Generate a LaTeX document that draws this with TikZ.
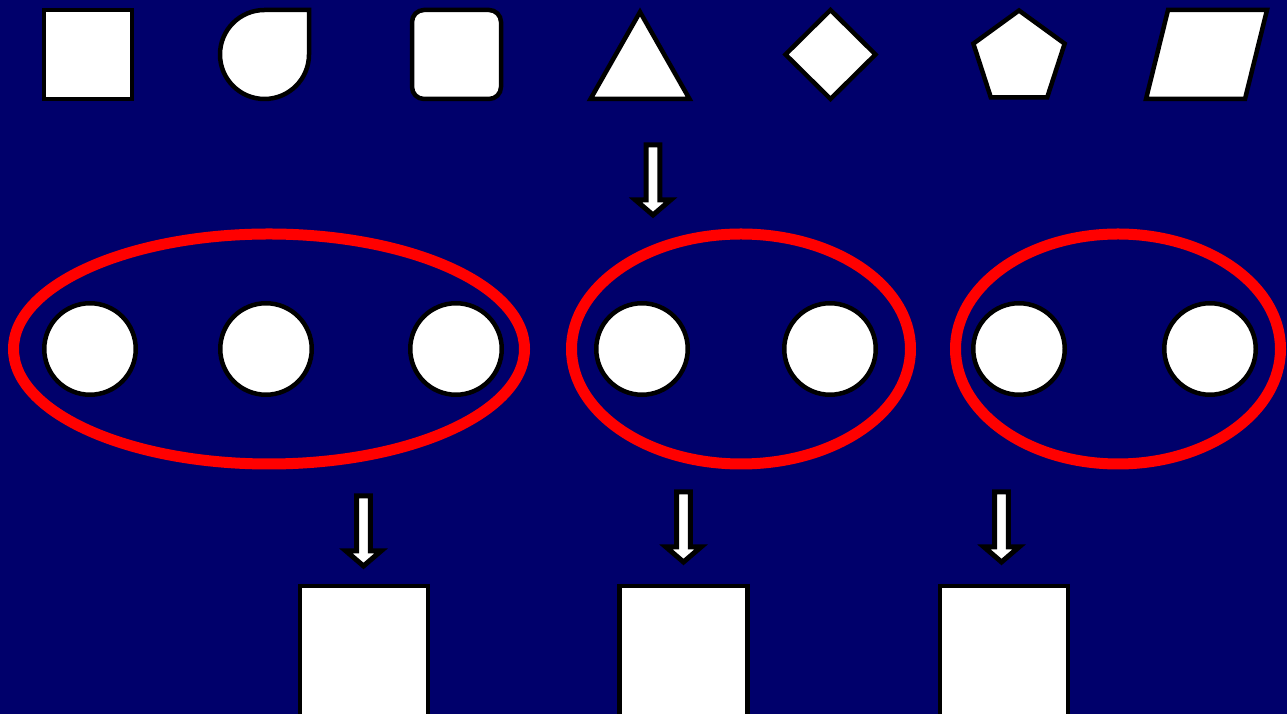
\documentclass[tikz,border=0pt]{standalone}
\usetikzlibrary{shapes.geometric}
\definecolor{bgnavy}{RGB}{0,0,107}
\definecolor{ringred}{RGB}{255,0,0}
\tikzset{
  shp/.style={draw=black,fill=white,line width=4.5pt,line join=miter},
  ball/.style={shp,circle,minimum size=91.5pt,inner sep=0pt},
  ring/.style={draw=ringred,line width=11pt,ellipse,inner sep=0pt},
  outbox/.style={shp,rectangle,minimum width=128pt,minimum height=134pt,inner sep=0pt},
  blockarr/.pic={
    \draw[shp,line width=5pt] (-6.8,0) -- (-6.8,-55) -- (-17.5,-55) -- (0,-70) -- (17.5,-55) -- (6.8,-55) -- (6.8,0) -- cycle;
  }
}
\begin{document}
\begin{tikzpicture}[x=1pt,y=1pt]
\fill[bgnavy] (0,0) rectangle (1287,714);
\useasboundingbox (0,0) rectangle (1287,714);
\begin{scope}
\clip (0,0) rectangle (1287,714);
% top row of shapes
\node[shp,rectangle,minimum width=88pt,minimum height=89pt,inner sep=0pt] (square) at (88,659.5) {};
\draw[shp] (309,704) -- (309,659.5) arc[start angle=0,end angle=-270,radius=44.5] -- cycle;
\node[shp,rectangle,rounded corners=12pt,minimum width=89pt,minimum height=89pt,inner sep=0pt] (rrect) at (456.5,659.5) {};
\draw[shp] (640,702) -- (689.5,615) -- (590.5,615) -- cycle;
\draw[shp] (830.5,704) -- (875.5,659.5) -- (830.5,615) -- (785.5,659.5) -- cycle;
\draw[shp] (1019,703.5) -- ({1019+48*cos(18)},{655.5+48*sin(18)}) -- ({1019+48*cos(-54)},{655.5+48*sin(-54)}) -- ({1019+48*cos(234)},{655.5+48*sin(234)}) -- ({1019+48*cos(162)},{655.5+48*sin(162)}) -- cycle;
\draw[shp] (1168,704) -- (1267,704) -- (1245,615) -- (1146,615) -- cycle;
% top arrow
\coordinate (a0) at (653,569);
\pic at (a0) {blockarr};
% rings
\node[ring,minimum width=511pt,minimum height=230pt] (ring1) at (269,365) {};
\node[ring,minimum width=339pt,minimum height=230pt] (ring2) at (741,365) {};
\node[ring,minimum width=325pt,minimum height=230pt] (ring3) at (1118,365) {};
% balls
\node[ball] (b1) at (90,365) {};
\node[ball] (b2) at (266,365) {};
\node[ball] (b3) at (456,365) {};
\node[ball] (b4) at (642,365) {};
\node[ball] (b5) at (830,365) {};
\node[ball] (b6) at (1019,365) {};
\node[ball] (b7) at (1210,365) {};
% bottom arrows
\coordinate (a1) at (363.5,218);
\coordinate (a2) at (683.5,222);
\coordinate (a3) at (1001.5,222);
\pic at (a1) {blockarr};
\pic at (a2) {blockarr};
\pic at (a3) {blockarr};
% output boxes
\node[outbox] (o1) at (364,61) {};
\node[outbox] (o2) at (683.5,61) {};
\node[outbox] (o3) at (1004,61) {};
\end{scope}
\end{tikzpicture}
\end{document}
